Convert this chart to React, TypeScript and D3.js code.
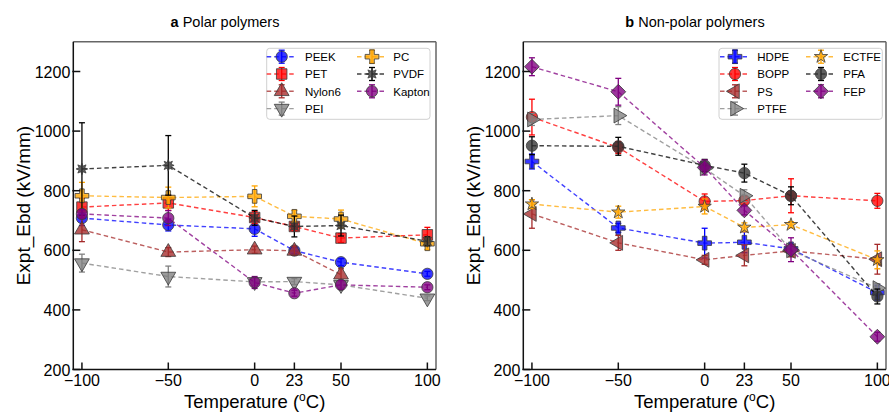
import React from 'react';
import * as d3 from 'd3';

// temperatures (degC) and axis ticks
const temps = [-100, -50, 0, 23, 50, 100];
const nylonTemps = [-100, -50, 0, 23, 50];
const yTicks = [200, 400, 600, 800, 1000, 1200];

// panel a: polar polymers
const peekY = [708, 685, 672, 599, 560, 521];
const peekErr = [25, 20, 25, 10, 12, 8];
const petY = [745, 759, 710, 680, 641, 652];
const petErr = [30, 25, 20, 15, 15, 25];
const nylonY = [669, 594, 602, 598, 518];
const nylonErr = [40, 15, 12, 15, 20];
const peiY = [557, 512, 494, 495, 484, 439];
const peiErr = [30, 35, 12, 10, 10, 8];
const pcY = [783, 777, 781, 714, 705, 622];
const pcErr = [45, 35, 35, 20, 30, 20];
const pvdfY = [873, 885, 709, 680, 683, 630];
const pvdfErr = [155, 100, 25, 35, 35, 15];
const kaptonY = [722, 708, 492, 456, 484, 476];
const kaptonErr = [15, 25, 20, 10, 15, 8];

// panel b: non-polar polymers
const hdpeY = [898, 675, 624, 627, 605, 458];
const hdpeErr = [25, 15, 50, 35, 15, 25];
const boppY = [1047, 945, 764, 767, 783, 766];
const boppErr = [60, 20, 25, 15, 57, 25];
const psY = [722, 625, 568, 583, 598, 570];
const psErr = [48, 25, 15, 35, 20, 50];
const ptfeY = [1039, 1052, 875, 783, 600, 473];
const ptfeErr = [20, 30, 15, 20, 15, 15];
const ectfeY = [755, 728, 747, 677, 686, 568];
const ectfeErr = [15, 20, 25, 15, 10, 30];
const pfaY = [951, 949, 885, 859, 783, 445];
const pfaErr = [30, 30, 20, 30, 30, 25];
const fepY = [1216, 1132, 878, 734, 602, 310];
const fepErr = [30, 45, 25, 15, 40, 15];

type Marker = 'circle' | 'square' | 'tri-up' | 'tri-down' | 'tri-left' | 'tri-right' | 'plus' | 'asterisk' | 'star' | 'diamond';
type Series = { name: string; color: string; marker: Marker; x: number[]; y: number[]; err: number[] };

const polar: Series[] = [
  { name: 'PEEK', color: '#0000ff', marker: 'circle', x: temps, y: peekY, err: peekErr },
  { name: 'PET', color: '#ff0000', marker: 'square', x: temps, y: petY, err: petErr },
  { name: 'Nylon6', color: '#a52a2a', marker: 'tri-up', x: nylonTemps, y: nylonY, err: nylonErr },
  { name: 'PEI', color: '#808080', marker: 'tri-down', x: temps, y: peiY, err: peiErr },
  { name: 'PC', color: '#ffa500', marker: 'plus', x: temps, y: pcY, err: pcErr },
  { name: 'PVDF', color: '#000000', marker: 'asterisk', x: temps, y: pvdfY, err: pvdfErr },
  { name: 'Kapton', color: '#800080', marker: 'circle', x: temps, y: kaptonY, err: kaptonErr },
];

const nonPolar: Series[] = [
  { name: 'HDPE', color: '#0000ff', marker: 'plus', x: temps, y: hdpeY, err: hdpeErr },
  { name: 'BOPP', color: '#ff0000', marker: 'circle', x: temps, y: boppY, err: boppErr },
  { name: 'PS', color: '#a52a2a', marker: 'tri-left', x: temps, y: psY, err: psErr },
  { name: 'PTFE', color: '#808080', marker: 'tri-right', x: temps, y: ptfeY, err: ptfeErr },
  { name: 'ECTFE', color: '#ffa500', marker: 'star', x: temps, y: ectfeY, err: ectfeErr },
  { name: 'PFA', color: '#000000', marker: 'circle', x: temps, y: pfaY, err: pfaErr },
  { name: 'FEP', color: '#800080', marker: 'diamond', x: temps, y: fepY, err: fepErr },
];

const FONT = '"Liberation Sans", Arial, sans-serif';

function markerPath(m: Marker): { d: string; rot: number } {
  const sym = (t: d3.SymbolType, s: number) => d3.symbol().type(t).size(s)() as string;
  switch (m) {
    case 'circle': return { d: sym(d3.symbolCircle, 100), rot: 0 };
    case 'square': return { d: sym(d3.symbolSquare, 110), rot: 0 };
    case 'tri-up': return { d: sym(d3.symbolTriangle, 95), rot: 0 };
    case 'tri-down': return { d: sym(d3.symbolTriangle, 95), rot: 180 };
    case 'tri-left': return { d: sym(d3.symbolTriangle, 95), rot: -90 };
    case 'tri-right': return { d: sym(d3.symbolTriangle, 95), rot: 90 };
    case 'plus': return { d: sym(d3.symbolCross, 105), rot: 0 };
    case 'star': return { d: sym(d3.symbolStar, 55), rot: 0 };
    case 'diamond': return { d: sym(d3.symbolSquare, 110), rot: 45 };
    case 'asterisk': {
      const pts = d3.range(16).map(i => {
        const a = (i * Math.PI) / 8;
        const r = i % 2 ? 3 : 5.8;
        return [r * Math.sin(a), -r * Math.cos(a)];
      });
      return { d: 'M' + pts.map(p => p.join(',')).join('L') + 'Z', rot: 0 };
    }
  }
}

function Point({ s, cx, cy, errPx }: { s: Series; cx: number; cy: number; errPx: number }) {
  const mk = markerPath(s.marker);
  const fill = s.color === '#000000' ? '#333' : s.color;
  return (
    <g>
      <g stroke={s.color} strokeWidth={1.3}>
        <line x1={cx} x2={cx} y1={cy - errPx} y2={cy + errPx} />
        <line x1={cx - 3} x2={cx + 3} y1={cy - errPx} y2={cy - errPx} />
        <line x1={cx - 3} x2={cx + 3} y1={cy + errPx} y2={cy + errPx} />
      </g>
      <path
        d={mk.d}
        transform={`translate(${cx},${cy}) rotate(${mk.rot})`}
        fill={fill}
        fillOpacity={0.78}
        stroke="#3a3a3a"
        strokeWidth={0.8}
      />
    </g>
  );
}

type PanelProps = {
  series: Series[];
  left: number;
  title: string;
  letter: string;
  titleX: number;
  ylabelX: number;
  legend: { x: number; m1: number; t1: number; m2: number; t2: number };
};

function Panel({ series, left, title, letter, titleX, ylabelX, legend }: PanelProps) {
  const right = left + 362.7;
  const top = 41.7;
  const bottom = 369.5;
  const x = d3.scaleLinear().domain([-105, 105]).range([left, right]);
  const y = d3.scaleLinear().domain([200, 1300]).range([bottom, top]);
  const line = d3.line<[number, number]>().x(d => x(d[0])).y(d => y(d[1]));

  const legTop = 48.3;
  const rowH = 17.3;

  return (
    <g fontFamily={FONT}>
      {/* title */}
      <text x={titleX} y={27} textAnchor="middle" fontSize={14.5}>
        <tspan fontWeight="bold">{letter}</tspan> {title}
      </text>

      {/* data */}
      {series.map(s => {
        const pts = s.x.map((t, i) => [t, s.y[i]] as [number, number]);
        return (
          <g key={s.name}>
            <path d={line(pts) as string} fill="none" stroke={s.color} strokeOpacity={0.75} strokeWidth={1.4} strokeDasharray="4.5,3" />
            {pts.map((p, i) => (
              <Point key={i} s={s} cx={x(p[0])} cy={y(p[1])} errPx={y(0) - y(s.err[i])} />
            ))}
          </g>
        );
      })}

      {/* frame */}
      <line x1={left} x2={right} y1={top} y2={top} stroke="#666" strokeWidth={1.5} />
      <line x1={right} x2={right} y1={top} y2={bottom} stroke="#666" strokeWidth={1.5} />
      <line x1={left} x2={left} y1={top} y2={bottom} stroke="#111" strokeWidth={1.5} />
      <line x1={left} x2={right} y1={bottom} y2={bottom} stroke="#111" strokeWidth={1.5} />

      {/* y ticks */}
      {yTicks.map(v => (
        <g key={v}>
          <line x1={left - 1} x2={left + 7} y1={y(v)} y2={y(v)} stroke="#111" strokeWidth={1.5} />
          <text x={left - 3} y={y(v) + 6} textAnchor="end" fontSize={16}>{v}</text>
        </g>
      ))}
      {/* x ticks */}
      {temps.map(t => (
        <g key={t}>
          <line x1={x(t)} x2={x(t)} y1={bottom} y2={bottom - 7} stroke="#111" strokeWidth={1.5} />
          <text x={x(t)} y={386} textAnchor="middle" fontSize={16}>{t < 0 ? '\u2212' + Math.abs(t) : t}</text>
        </g>
      ))}

      {/* axis labels */}
      <text x={(left + right) / 2} y={408} textAnchor="middle" fontSize={18.5}>
        Temperature (<tspan fontSize={12} dy={-7}>o</tspan><tspan dy={7}>C)</tspan>
      </text>
      <text transform={`translate(${ylabelX},${(top + bottom) / 2}) rotate(-90)`} textAnchor="middle" fontSize={19}>
        Expt_Ebd (kV/mm)
      </text>

      {/* legend */}
      <rect x={legend.x} y={legTop} width={163.3} height={71} rx={3} fill="#fff" fillOpacity={0.85} stroke="#d0d0d0" strokeWidth={1} />
      {series.map((s, i) => {
        const col = i < 4 ? 0 : 1;
        const row = i < 4 ? i : i - 4;
        const cx = col === 0 ? legend.m1 : legend.m2;
        const tx = col === 0 ? legend.t1 : legend.t2;
        const cy = legTop + 8.4 + row * rowH;
        return (
          <g key={s.name}>
            <line x1={cx - 15} x2={cx + 15} y1={cy} y2={cy} stroke={s.color} strokeOpacity={0.75} strokeWidth={1.4} strokeDasharray="4.5,3" />
            <Point s={s} cx={cx} cy={cy} errPx={6.5} />
            <text x={tx} y={cy + 4.2} fontSize={11.5}>{s.name}</text>
          </g>
        );
      })}
    </g>
  );
}

export default function App() {
  return (
    <svg width={889} height={415} style={{ position: 'absolute', left: 0, top: 0, background: '#fff' }}>
      <rect width={889} height={415} fill="#fff" />
      <Panel
        series={polar}
        left={73.3}
        title="Polar polymers"
        letter="a"
        titleX={225}
        ylabelX={30}
        legend={{ x: 266.7, m1: 281.7, t1: 305, m2: 372, t2: 393.3 }}
      />
      <Panel
        series={nonPolar}
        left={523.3}
        title="Non-polar polymers"
        letter="b"
        titleX={695}
        ylabelX={480}
        legend={{ x: 719, m1: 735, t1: 757.3, m2: 821, t2: 843.3 }}
      />
    </svg>
  );
}
